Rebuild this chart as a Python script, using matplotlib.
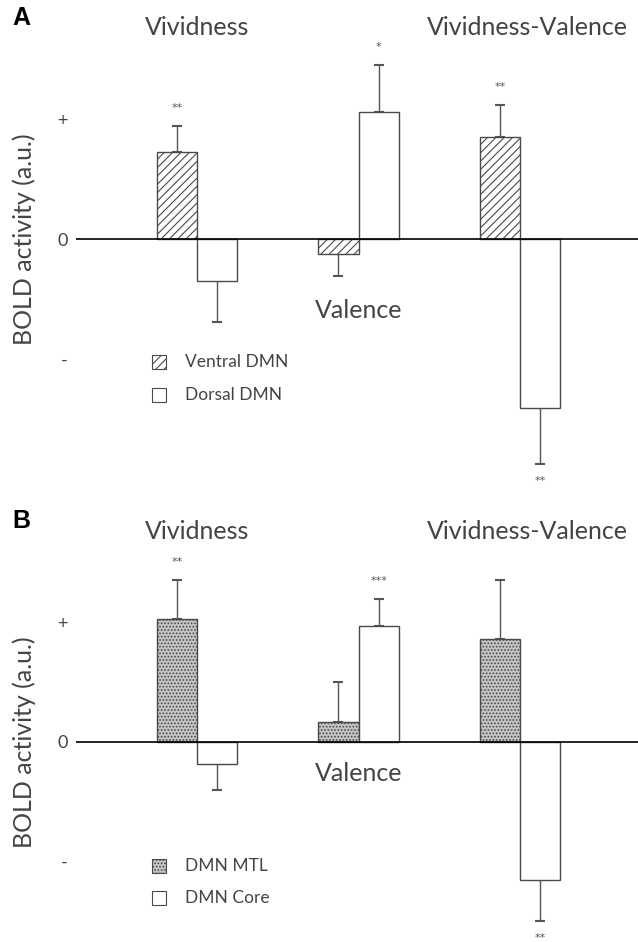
import numpy as np
import matplotlib.pyplot as plt

# data (a.u., "+" = 1, "-" = -1)
groups = ['Vividness', 'Valence', 'Vividness-Valence']
ventral = [0.725, -0.125, 0.85]
ventral_err = [0.215, 0.185, 0.27]
dorsal = [-0.35, 1.06, -1.41]
dorsal_err = [0.34, 0.39, 0.465]
ventral_stars = ['**', '', '**']
dorsal_stars = ['', '*', '**']

mtl = [1.03, 0.167, 0.86]
mtl_err = [0.325, 0.333, 0.495]
core = [-0.18, 0.97, -1.155]
core_err = [0.22, 0.227, 0.345]
mtl_stars = ['**', '', '']
core_stars = ['', '***', '**']

plt.rcParams['font.family'] = ['Lato', 'DejaVu Sans']
plt.rcParams['hatch.color'] = '#555555'
plt.rcParams['hatch.linewidth'] = 0.8
W, H = 638, 942
fig = plt.figure(figsize=(W / 100, H / 100), dpi=100)

x = np.arange(len(groups))
bw = 0.25
edge = '#4a4a4a'
txt = '#444444'


def px_axes(left, top, right, bottom):
    return fig.add_axes([left / W, 1 - bottom / H, (right - left) / W, (bottom - top) / H])


def panel(ax, a, a_err, a_st, b, b_err, b_st, style, labels, ylim, letter, val_y, leg_y):
    ax.set_xlim(-0.75, 2.73)
    ax.set_ylim(*ylim)
    for side in ['top', 'right', 'left', 'bottom']:
        ax.spines[side].set_visible(False)
    ax.axhline(0, color='black', lw=1.2, zorder=3)
    ax.set_xticks([])
    ax.set_yticks([-1, 0, 1])
    ax.set_yticklabels(['-', '0', '+'], fontsize=13, color=txt)
    ax.tick_params(axis='y', length=0, pad=6)
    ax.set_ylabel('BOLD activity (a.u.)', fontsize=18, color=txt)
    ax.yaxis.set_label_coords(-40 / 562, (0 - ylim[0]) / (ylim[1] - ylim[0]))

    for vals, errs, stars, off, kind in [(a, a_err, a_st, -bw / 2, 'a'), (b, b_err, b_st, bw / 2, 'b')]:
        xs = x + off
        if kind == 'a':
            ax.bar(xs, vals, bw, color=style['fc'], hatch=style['hatch'], edgecolor=edge,
                   linewidth=1, zorder=2)
        else:
            ax.bar(xs, vals, bw, color='white', edgecolor=edge, linewidth=1, zorder=2)
        lo = [e if v < 0 else 0 for v, e in zip(vals, errs)]
        hi = [e if v >= 0 else 0 for v, e in zip(vals, errs)]
        ax.errorbar(xs, vals, yerr=[lo, hi], fmt='none', ecolor='#555555', elinewidth=1,
                    capsize=3.5, capthick=1.5, zorder=1)
        for xi, v, e, s in zip(xs, vals, errs, stars):
            if not s:
                continue
            yy = v + e + 0.15 if v >= 0 else v - e - 0.14
            ax.text(xi, yy, s, ha='center', va='center', fontsize=8, color='#555555',
                    family='DejaVu Sans')

    ax.text(0, 1.76, groups[0], ha='center', va='center', fontsize=18, color=txt)
    ax.text(2.67, 1.76, groups[2], ha='right', va='center', fontsize=18, color=txt)
    ax.text(1, val_y, groups[1], ha='center', va='center', fontsize=18, color=txt)

    # legend drawn by hand in data space
    for i, (lab, kind) in enumerate(labels):
        yy = leg_y[i]
        kw = dict(bottom=yy - 0.058, edgecolor=edge, linewidth=0.8)
        if kind == 'a':
            ax.bar(-0.235, 0.116, 0.084, color=style['fc'], hatch=style['hatch'], **kw)
        else:
            ax.bar(-0.235, 0.116, 0.084, color='white', **kw)
        ax.text(-0.074, yy, lab, ha='left', va='center', fontsize=12.5, color=txt)

    fig.text(ax.get_position().x0 - 64 / W, ax.get_position().y1 - 8 / H, letter,
             fontsize=18, fontweight='bold', family='Liberation Sans', va='center')


axA = px_axes(76, 10, 638, 495)
panel(axA, ventral, ventral_err, ventral_stars, dorsal, dorsal_err, dorsal_stars,
      {'fc': 'white', 'hatch': '////'},
      [('Ventral DMN', 'a'), ('Dorsal DMN', 'b')],
      ((239 - 495) / 120, (239 - 10) / 120), 'A', -0.6, [-1.025, -1.3])

axB = px_axes(76, 513, 638, 940)
panel(axB, mtl, mtl_err, mtl_stars, core, core_err, core_stars,
      {'fc': '#c4c4c4', 'hatch': '.....'},
      [('DMN MTL', 'a'), ('DMN Core', 'b')],
      ((742 - 940) / 119.5, (742 - 513) / 119.5), 'B', -0.26, [-1.04, -1.305])

fig.savefig('out.png', dpi=100)
